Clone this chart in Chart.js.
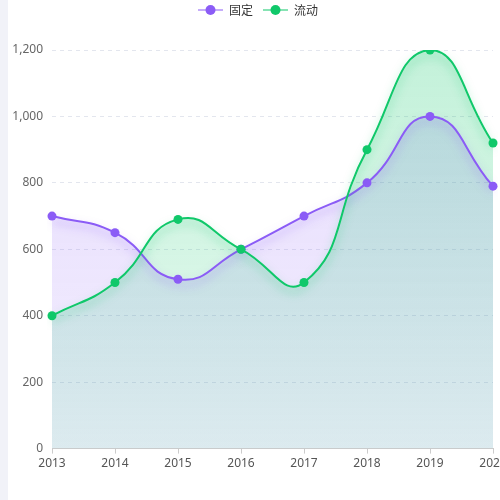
<!DOCTYPE html>
<html>
<head>
<meta charset="utf-8">
<script src="https://cdn.jsdelivr.net/npm/chart.js@4"></script>
<style>
  html, body { margin: 0; padding: 0; }
  body { width: 500px; height: 500px; background: linear-gradient(to right, #f1f2f8 0, #f1f2f8 8px, #fff 8px); }
  canvas { display: block; }
</style>
</head>
<body>
<canvas id="trendChart" width="500" height="500"></canvas>
<script>
// data
const years = ['2013', '2014', '2015', '2016', '2017', '2018', '2019', '2020'];
const seriesNames = ['固定', '流动'];
const fixedValues = [700, 650, 510, 600, 700, 800, 1000, 790];
const flowValues = [400, 500, 690, 600, 500, 900, 1200, 920];
const yMax = 1200;
const yStep = 200;

const PURPLE = [139, 92, 246];
const GREEN = [16, 200, 106];
const rgba = (c, a) => `rgba(${c[0]},${c[1]},${c[2]},${a})`;

Chart.defaults.font.family = "'Noto Sans', 'Noto Sans CJK SC', sans-serif";
Chart.defaults.font.size = 12;

// points are drawn without the line shadow
const pointDraw = Chart.PointElement.prototype.draw;
Chart.PointElement.prototype.draw = function (ctx, area) {
  ctx.save();
  ctx.shadowColor = 'rgba(0,0,0,0)';
  ctx.shadowBlur = 0;
  ctx.shadowOffsetY = 0;
  pointDraw.call(this, ctx, area);
  ctx.restore();
};

// legend icon: short line with a dot in the middle
function legendIcon(c) {
  const cv = document.createElement('canvas');
  cv.width = 25; cv.height = 10;
  const g = cv.getContext('2d');
  g.strokeStyle = rgba(c, 0.5);
  g.lineWidth = 2;
  g.beginPath(); g.moveTo(0, 5); g.lineTo(25, 5); g.stroke();
  g.fillStyle = rgba(c, 1);
  g.beginPath(); g.arc(12.5, 5, 5, 0, Math.PI * 2); g.fill();
  return cv;
}

function areaGradient(c, values, topA, bottomA) {
  return (ctx) => {
    const chart = ctx.chart;
    if (!chart.chartArea) return rgba(c, bottomA);
    const y = chart.scales.y;
    const top = y.getPixelForValue(Math.max(...values));
    const bottom = y.getPixelForValue(0);
    const grad = chart.ctx.createLinearGradient(0, top, 0, bottom);
    grad.addColorStop(0, rgba(c, topA));
    grad.addColorStop(1, rgba(c, bottomA));
    return grad;
  };
}

function series(name, values, c, topA, order) {
  return {
    label: name,
    data: values,
    borderColor: rgba(c, 1),
    borderWidth: 2,
    backgroundColor: areaGradient(c, values, topA, 0.1),
    fill: 'origin',
    tension: 0.5,
    pointRadius: 4.5,
    pointHoverRadius: 5,
    pointBackgroundColor: rgba(c, 1),
    pointBorderWidth: 0,
    pointStyle: 'circle',
    legendIcon: legendIcon(c),
    shadowColor: rgba(c, 0.5),
    order: order
  };
}

// soft shadow under each line (areas are all drawn before the lines)
const lineShadow = {
  id: 'lineShadow',
  beforeDatasetDraw(chart, args) {
    const ds = chart.data.datasets[args.index];
    const ctx = chart.ctx;
    ctx.save();
    ctx.shadowColor = ds.shadowColor;
    ctx.shadowBlur = 8;
    ctx.shadowOffsetY = 5;
  },
  afterDatasetDraw(chart) {
    chart.ctx.restore();
  }
};

// legend sits high and a little right of the canvas centre
const legendPlace = {
  id: 'legendPlace',
  beforeInit(chart) {
    const fit = chart.legend.fit;
    chart.legend.fit = function () {
      fit.bind(chart.legend)();
      this.height = 56;
    };
  },
  afterLayout(chart) {
    chart.legend.left = 23;
  }
};

const ds = [
  series(seriesNames[0], fixedValues, PURPLE, 0.2, 1),
  series(seriesNames[1], flowValues, GREEN, 0.25, 0)
];

new Chart(document.getElementById('trendChart'), {
  type: 'line',
  data: { labels: years, datasets: ds },
  options: {
    responsive: false,
    animation: false,
    layout: { padding: { top: -6, left: 0, right: 7, bottom: 26 } },
    plugins: {
      filler: { drawTime: 'beforeDatasetsDraw' },
      legend: {
        position: 'top',
        labels: {
          color: '#333',
          padding: 10,
          usePointStyle: true,
          pointStyleWidth: 25,
          font: { family: "'Noto Sans CJK SC', sans-serif", size: 12 },
          generateLabels(chart) {
            return chart.data.datasets.map((d, i) => ({
              text: d.label,
              pointStyle: d.legendIcon,
              fillStyle: d.borderColor,
              strokeStyle: d.borderColor,
              lineWidth: 0,
              fontColor: '#333',
              hidden: !chart.isDatasetVisible(i),
              datasetIndex: i
            }));
          }
        }
      },
      tooltip: { enabled: false }
    },
    scales: {
      x: {
        offset: false,
        grid: { display: true, drawOnChartArea: false, tickLength: 5, color: '#ccc' },
        border: { display: true, color: '#ccc' },
        ticks: { color: '#555', padding: 3, maxRotation: 0, autoSkip: false },
        afterFit(s) { s.paddingLeft = 0; s.paddingRight = 0; }
      },
      y: {
        min: 0,
        max: yMax,
        afterFit(s) { s.width = 52; },
        grid: { color: '#e3e6ee', drawTicks: false },
        border: { display: false, dash: [4, 4] },
        ticks: { stepSize: yStep, color: '#666', padding: 9 }
      }
    }
  },
  plugins: [lineShadow, legendPlace]
});
</script>
</body>
</html>
